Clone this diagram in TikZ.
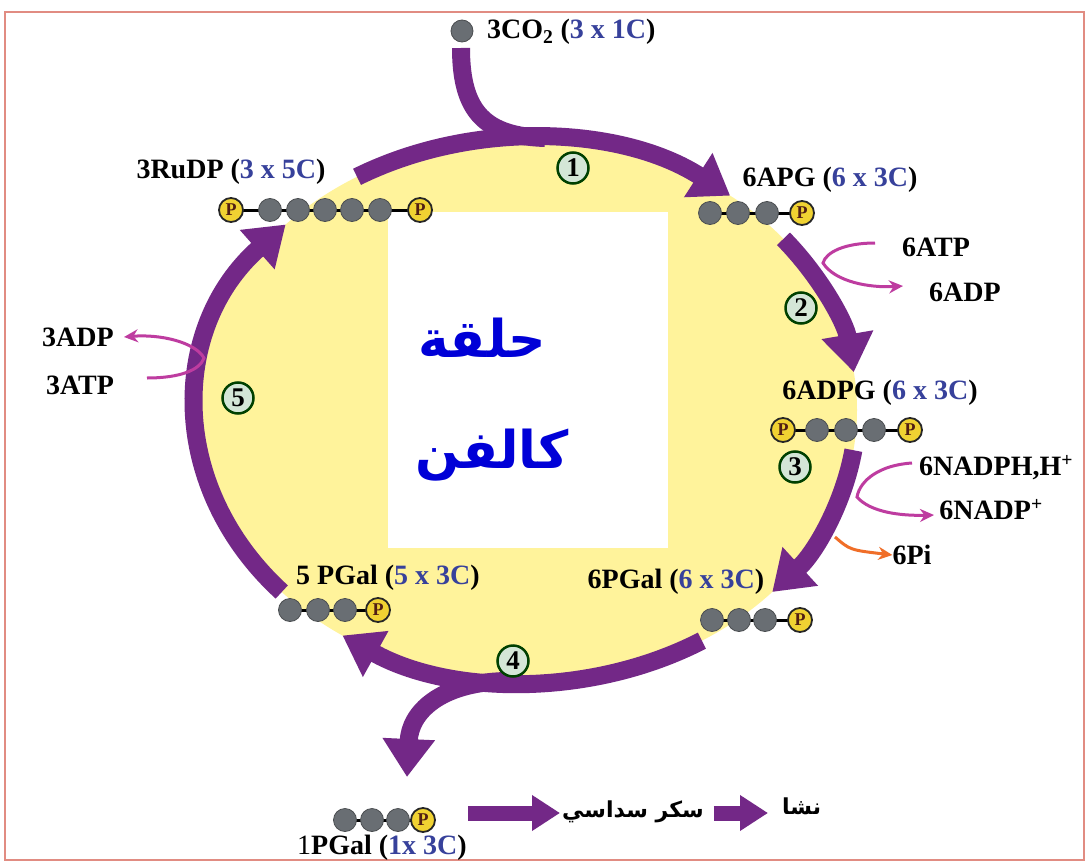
\documentclass[tikz,border=0pt]{standalone}
\usepackage{fontspec}
\setmainfont{Liberation Serif}
\newfontfamily\arabicfont[Script=Arabic]{DejaVu Sans}
\TeXXeTstate=1
\usetikzlibrary{arrows.meta,calc}
\definecolor{cpurple}{RGB}{115,40,135}
\definecolor{cyellow}{RGB}{255,243,155}
\definecolor{cmag}{RGB}{190,60,160}
\definecolor{corange}{RGB}{240,110,40}
\definecolor{cframe}{RGB}{225,140,130}
\definecolor{cball}{RGB}{105,110,115}
\definecolor{cP}{RGB}{240,210,50}
\definecolor{cPtext}{RGB}{80,30,20}
\definecolor{cnum}{RGB}{212,230,215}
\definecolor{cblue}{RGB}{55,65,155}
\definecolor{carab}{RGB}{0,0,215}
\pgfdeclarelayer{back}\pgfdeclarelayer{mid}\pgfsetlayers{back,mid,main}
\tikzset{
  lbl/.style={font=\fontsize{28}{30}\selectfont\bfseries, inner sep=0pt},
  cyc/.style={line width=18pt, draw=cpurple, -{Triangle[length=38pt,width=50pt]}},
  ball/.style={circle, fill=cball, draw=cball!70!black, line width=0.8pt, minimum size=23pt, inner sep=0pt},
  phos/.style={circle, fill=cP, draw=black!85, line width=1.8pt, minimum size=24pt, inner sep=0pt, font=\fontsize{18}{18}\selectfont\bfseries, text=cPtext},
  num/.style={circle, fill=cnum, draw=black!75!green, line width=2.5pt, minimum size=31pt, inner sep=0pt, font=\fontsize{27}{27}\selectfont\bfseries},
  side/.style={draw=cmag, line width=3pt, -{Stealth[length=14pt,width=13pt]}},
  bond/.style={draw=black, line width=3pt},
  block/.style={line width=15pt, draw=cpurple, -{Triangle[length=28pt,width=34pt]}},
  arab/.style={font=\arabicfont\bfseries\fontsize{22}{24}\selectfont, inner sep=2pt}
}
\begin{document}
\begin{tikzpicture}[x=1pt,y=-1pt]
\useasboundingbox (0,0) rectangle (1090,867);
\coordinate (C) at (527,410);
\begin{pgfonlayer}{back}
  \fill[white] (0,0) rectangle (1090,867);
  \fill[cyellow] (C) ellipse[x radius=330, y radius=272];
  \fill[white] (388,212) rectangle (668,548);
\end{pgfonlayer}
\draw[cframe, line width=2.5pt] (5,12) rectangle (1084,860);

% centre title
\node[text=carab, font=\arabicfont\bfseries\fontsize{52}{56}\selectfont] (t1) at (482,338) {\beginR حلقة\endR};
\node[text=carab, font=\arabicfont\bfseries\fontsize{52}{56}\selectfont] (t2) at (492,455) {\beginR كالفن\endR};

% cycle arcs
\draw[cyc] ($(C)+(-121:330 and 272)$) coordinate (a1s) arc[start angle=-121, end angle=-52, x radius=330, y radius=272] coordinate (a1e);
\draw[cyc] ($(C)+(-39:330 and 272)$) coordinate (a2s) arc[start angle=-39, end angle=-8, x radius=330, y radius=272] coordinate (a2e);
\draw[cyc] ($(C)+(8.5:330 and 272)$) coordinate (a3s) arc[start angle=8.5, end angle=42, x radius=330, y radius=272] coordinate (a3e);
\draw[cyc] ($(C)+(58:330 and 272)$) coordinate (a4s) arc[start angle=58, end angle=124, x radius=330, y radius=272] coordinate (a4e);
\draw[cyc] ($(C)+(-222:330 and 272)$) coordinate (a5s) arc[start angle=-222, end angle=-137, x radius=330, y radius=272] coordinate (a5e);

% CO2 input
\node[ball, minimum size=22pt] (co2b) at (462,31) {};
\node[lbl, anchor=west] (co2) at (487,32) {3CO\textsubscript{2} (\textcolor{cblue}{3 x 1C})};
\coordinate (co2s) at (461,48);
\coordinate (co2j) at (545,138);
\draw[line width=18pt, cpurple] (co2s) .. controls (461,112) and (485,136) .. (co2j);

% output branch
\coordinate (brs) at (505,681);
\coordinate (bre) at (407,777);
\draw[cyc] (brs) .. controls (440,683) and (410,712) .. (bre);

% numbers
\node[num] (n1) at (573,168) {1};
\node[num] (n2) at (801,308) {2};
\node[num] (n3) at (795,467) {3};
\node[num] (n4) at (513,661) {4};
\node[num] (n5) at (238,398) {5};

% 3RuDP
\node[lbl] (lrudp) at (231,172) {3RuDP (\textcolor{cblue}{3 x 5C})};
\node[phos] (r0) at (231,210) {P};
\foreach \x [count=\i] in {270,298,325,352,380} \node[ball] (r\i) at (\x,210) {};
\node[phos] (r6) at (420,210) {P};
% 6APG
\node[lbl] (lapg) at (830,180) {6APG (\textcolor{cblue}{6 x 3C})};
\foreach \x [count=\i] in {710,738,767} \node[ball] (g\i) at (\x,213) {};
\node[phos] (g4) at (802,213) {P};
% 6ADPG
\node[lbl] (ladpg) at (880,393) {6ADPG (\textcolor{cblue}{6 x 3C})};
\node[phos] (d0) at (783,430) {P};
\foreach \x [count=\i] in {817,846,874} \node[ball] (d\i) at (\x,430) {};
\node[phos] (d4) at (910,430) {P};
% 6PGal
\node[lbl] (l6pgal) at (676,582) {6PGal (\textcolor{cblue}{6 x 3C})};
\foreach \x [count=\i] in {712,739,765} \node[ball] (s\i) at (\x,620) {};
\node[phos] (s4) at (800,620) {P};
% 5 PGal
\node[lbl] (l5pgal) at (388,578) {5 PGal (\textcolor{cblue}{5 x 3C})};
\foreach \x [count=\i] in {290,318,345} \node[ball] (f\i) at (\x,610) {};
\node[phos] (f4) at (378,610) {P};
% 1 PGal
\node[lbl] (l1pgal) at (382,848) {{\mdseries 1}PGal (\textcolor{cblue}{1x 3C})};
\foreach \x [count=\i] in {345,372,398} \node[ball] (o\i) at (\x,820) {};
\node[phos] (o4) at (423,820) {P};

\begin{pgfonlayer}{mid}
  \draw[bond] (r0.center) -- (r6.center);
  \draw[bond] (g1.center) -- (g4.center);
  \draw[bond] (d0.center) -- (d4.center);
  \draw[bond] (s1.center) -- (s4.center);
  \draw[bond] (f1.center) -- (f4.center);
  \draw[bond] (o1.center) -- (o4.center);
\end{pgfonlayer}

% bottom products
\node[arab, anchor=west] (sug) at (560,812) {\beginR سكر سداسي\endR};
\node[arab, anchor=west] (star) at (780,806) {\beginR نشا\endR};
\coordinate (b1s) at (468,813);
\draw[block] (b1s) -- (b1s -| sug.west);
\coordinate (b2s) at ($(sug.east)+(8,1)$);
\draw[block] (b2s) -- ($(b2s -| star.west)+(-12,0)$);

% side reactions
\node[lbl] (atp6) at (936,247) {6ATP};
\node[lbl] (adp6) at (965,292) {6ADP};
\coordinate (s2a) at (875,243);
\coordinate (s2t) at (823,263);
\coordinate (s2b) at (903,286);
\draw[side] (s2a) .. controls (845,243) and (826,252) .. (s2t) .. controls (835,282) and (870,288) .. (s2b);

\node[lbl] (adp3) at (78,337) {3ADP};
\node[lbl] (atp3) at (80,385) {3ATP};
\coordinate (s5a) at (147,378);
\coordinate (s5t) at (204,358);
\coordinate (s5b) at (124,337);
\draw[side] (s5a) .. controls (180,378) and (200,370) .. (s5t) .. controls (195,342) and (160,334) .. (s5b);

\node[lbl] (nadph) at (996,468) {6NADPH,H\textsuperscript{+}};
\node[lbl] (nadp) at (991,510) {6NADP\textsuperscript{+}};
\node[lbl] (pi) at (912,555) {6Pi};
\coordinate (s3a) at (912,463);
\coordinate (s3t) at (857,497);
\coordinate (s3b) at (934,515);
\draw[side] (s3a) .. controls (880,465) and (860,480) .. (s3t) .. controls (870,512) and (900,516) .. (s3b);
\coordinate (s3o) at (835,537);
\draw[draw=corange, line width=3pt, -{Stealth[length=14pt,width=13pt]}] (s3o) .. controls (850,550) .. (pi.west);
\end{tikzpicture}
\end{document}
